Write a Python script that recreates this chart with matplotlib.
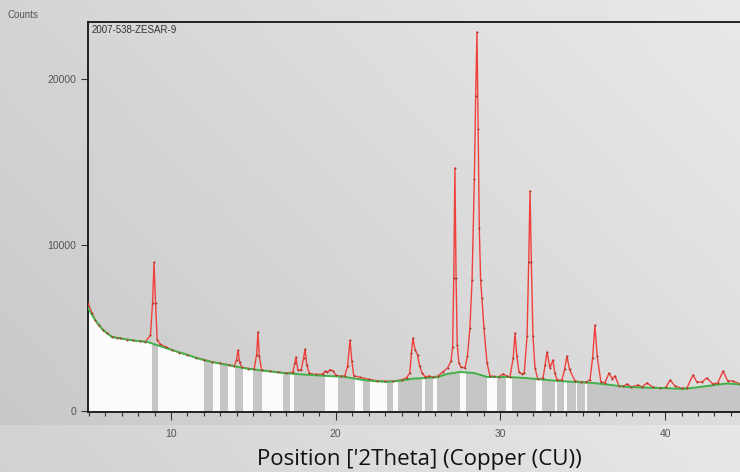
import numpy as np
import matplotlib
matplotlib.use("Agg")
import matplotlib.pyplot as plt

# fitted background (green), 2theta / counts
bg_x = [4.96, 5.39, 5.87, 6.42, 6.9, 7.7, 8.6, 10.06, 11.0, 11.76, 12.49, 13.5,
        14.37, 15.5, 16.8, 18.0, 19.47, 20.5, 21.66, 22.4, 23.11, 23.9, 24.69,
        25.5, 26.15, 26.76, 27.55, 28.4, 29.2, 30.4, 31.5, 32.5, 33.5, 34.5,
        35.62, 36.6, 37.69, 38.7, 39.69, 41.09, 41.9, 42.73, 43.76, 44.55]
bg_y = [6200, 5480, 4880, 4450, 4380, 4250, 4150, 3670, 3380, 3130, 2950, 2760,
        2590, 2440, 2290, 2200, 2110, 2060, 1870, 1800, 1750, 1820, 1950,
        1990, 2030, 2230, 2350, 2290, 2050, 2050, 1990, 1900, 1810, 1750,
        1690, 1580, 1450, 1410, 1390, 1330, 1420, 1530, 1660, 1600]

# measured pattern (red)
obs_x = [4.96, 5.2, 5.39, 5.6, 5.87, 6.1, 6.42, 6.7, 6.9, 7.3, 7.7, 8.1, 8.45,
         8.75, 8.88, 8.97, 9.06, 9.16, 9.35, 9.7, 10.06, 10.5, 11.0, 11.5, 12.0,
         12.5, 13.0, 13.5, 13.85, 13.98, 14.07, 14.16, 14.3, 14.7, 15.05, 15.2,
         15.28, 15.36, 15.5, 16.0, 16.5, 17.0, 17.4, 17.52, 17.59, 17.7, 17.9,
         18.05, 18.14, 18.24, 18.4, 18.8, 19.2, 19.35, 19.5, 19.65, 19.84, 20.0,
         20.3, 20.55, 20.72, 20.87, 20.98, 21.1, 21.5, 22.0, 22.5, 23.0, 23.5,
         24.0, 24.3, 24.5, 24.6, 24.69, 24.82, 24.97, 25.1, 25.24, 25.45, 25.66,
         25.9, 26.2, 26.5, 26.8, 27.0, 27.1, 27.17, 27.24, 27.31, 27.38, 27.48,
         27.6, 27.85, 28.0, 28.15, 28.28, 28.42, 28.5, 28.58, 28.65, 28.72,
         28.8, 28.88, 29.0, 29.19, 29.37, 29.6, 29.9, 30.16, 30.4, 30.58, 30.78,
         30.89, 31.0, 31.13, 31.3, 31.45, 31.62, 31.72, 31.8, 31.88, 31.98, 32.1,
         32.28, 32.59, 32.72, 32.83, 33.01, 33.19, 33.3, 33.44, 33.74, 33.9,
         34.04, 34.2, 34.53, 34.9, 35.2, 35.44, 35.6, 35.74, 35.88, 36.1, 36.35,
         36.6, 36.8, 36.96, 37.2, 37.45, 37.69, 37.95, 38.36, 38.6, 38.9, 39.27,
         39.7, 40.05, 40.3, 40.6, 41.0, 41.33, 41.69, 41.93, 42.24, 42.54, 42.9,
         43.2, 43.52, 43.8, 44.1, 44.55]
obs_y = [6500, 5900, 5500, 5150, 4900, 4700, 4480, 4420, 4380, 4300, 4250, 4200,
         4180, 4550, 6500, 8950, 6500, 4300, 4020, 3850, 3680, 3520, 3380, 3220,
         3100, 2960, 2870, 2790, 2720, 3100, 3670, 2950, 2630, 2560, 2540, 3400,
         4760, 3300, 2470, 2400, 2340, 2300, 2330, 2900, 3250, 2480, 2450, 3200,
         3730, 2800, 2260, 2200, 2220, 2400, 2330, 2480, 2420, 2150, 2100, 2110,
         2700, 4280, 3000, 2130, 2020, 1910, 1820, 1790, 1800, 1880, 2000, 2300,
         3500, 4400, 3700, 3370, 2700, 2290, 2050, 2110, 2040, 2100, 2350, 2600,
         3000, 3850, 8000, 14640, 8000, 4000, 2890, 2650, 2590, 3300, 5000, 7890,
         14000, 19000, 22830, 17000, 11000, 7890, 6800, 5000, 2890, 2100, 2080,
         2060, 2230, 2100, 2050, 3200, 4700, 3300, 2350, 2230, 2300, 4500, 9000,
         13250, 9000, 4500, 2600, 1900, 1990, 2800, 3550, 2590, 3070, 2300, 1870,
         1870, 2500, 3310, 2500, 1810, 1760, 1750, 1870, 3200, 5180, 3300, 1760,
         1700, 2290, 1930, 2110, 1510, 1480, 1630, 1450, 1570, 1450, 1690, 1430,
         1390, 1420, 1870, 1510, 1370, 1390, 2170, 1750, 1750, 1990, 1630, 1690,
         2410, 1810, 1810, 1630]

# peak-list stripes under the background (2theta ranges)
band_start = [8.85, 12.00, 12.98, 13.89, 14.98, 16.80, 17.47, 20.14, 21.66, 23.11,
              23.78, 25.42, 26.15, 27.91, 29.79, 30.70, 32.53, 33.44, 34.04, 34.65,
              35.26]
band_end = [9.21, 12.55, 13.46, 14.37, 15.53, 17.23, 19.35, 21.17, 22.08, 23.48,
            25.24, 25.91, 27.55, 29.19, 30.34, 32.16, 33.32, 33.86, 34.59, 35.13,
            45.0]

x_ticks = [10, 20, 30, 40]
y_ticks = [0, 10000, 20000]

fig = plt.figure(figsize=(7.4, 4.72), dpi=100)

# photographed grey backdrop
bgax = fig.add_axes([0, 0, 1, 1], zorder=0)
gx = np.linspace(0, 1, 200)
gy = np.linspace(0, 1, 130)
GX, GY = np.meshgrid(gx, gy)
shade = 0.78 + 0.08 * GX + 0.05 * (1 - GY)
shade[GY > 0.9] += 0.04
bgax.imshow(np.clip(shade, 0, 1), cmap="gray", vmin=0, vmax=1, aspect="auto",
            extent=[0, 1, 0, 1], origin="upper")
bgax.axis("off")

ax = fig.add_axes([88 / 740, 1 - 412 / 472, 1 - 88 / 740, 390 / 472], zorder=1)
ax.set_facecolor("none")
ax.set_xlim(4.96, 44.55)
ax.set_ylim(-60, 23430)

under = ax.fill_between(bg_x, 0, bg_y, color="#fbfbfb", lw=0, zorder=1)
clip = under.get_paths()[0]
for a, b in zip(band_start, band_end):
    sp = ax.axvspan(a, b, color="#c6c6c6", lw=0, zorder=2)
    sp.set_clip_path(clip, ax.transData)

ax.plot(obs_x, obs_y, color="#f0403c", lw=1.0, zorder=3)
ax.plot(bg_x, bg_y, color="#44b04a", lw=1.4, zorder=4)
ax.scatter(obs_x, obs_y, s=2, color="#a83424", lw=0, zorder=5)

for s in ["left", "top", "bottom"]:
    ax.spines[s].set_color("#222222")
    ax.spines[s].set_linewidth(1.4)
ax.spines["right"].set_visible(False)

ax.set_xticks(x_ticks)
ax.set_xticks(np.arange(5, 45, 1), minor=True)
ax.set_yticks(y_ticks)
ax.tick_params(axis="both", which="major", labelsize=7.5, colors="#333333",
               labelcolor="#555555", length=5, width=0.8)
ax.tick_params(axis="x", which="minor", length=3, width=0.8, colors="#333333")
ax.tick_params(axis="x", which="major", length=6, pad=6)
for lab in ax.get_xticklabels() + ax.get_yticklabels():
    lab.set_family("Liberation Sans")

ax.text(0.006, 0.993, "2007-538-ZESAR-9", transform=ax.transAxes, ha="left",
        va="top", fontsize=7, color="#333333", family="Liberation Sans")
fig.text(8 / 740, 1 - 15 / 472, "Counts", ha="left", va="center", fontsize=7,
         color="#555555", family="Liberation Sans")
fig.text(419 / 740, 1 - 459 / 472, "Position ['2Theta] (Copper (CU))",
         ha="center", va="center", fontsize=16, color="#111111",
         family="Open Sans")

fig.savefig("out.png", dpi=100)
